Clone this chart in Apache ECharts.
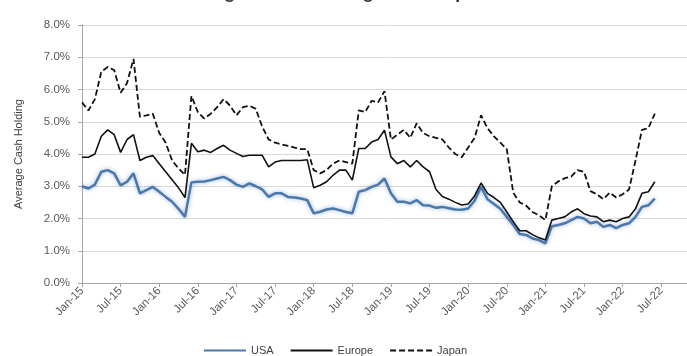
<!DOCTYPE html>
<html>
<head>
<meta charset="utf-8">
<script src="https://cdn.jsdelivr.net/npm/echarts@6/dist/echarts.min.js"></script>
<style>
  html, body { margin: 0; padding: 0; background: #fff; }
  #chart { width: 687px; height: 356px; }
</style>
</head>
<body>
<div id="chart"></div>
<script>
// Monthly categories, Jan-15 through Nov-22 (axis runs past the last reading)
const monthNames = ['Jan','Feb','Mar','Apr','May','Jun','Jul','Aug','Sep','Oct','Nov','Dec'];
const categories = [];
for (let y = 15; y <= 22; y++) {
  for (let m = 0; m < 12; m++) {
    if (y === 22 && m > 10) break;
    categories.push(monthNames[m] + '-' + y);
  }
}

// Average cash holding (% of assets), Jan-15 .. Jun-22
const usa = [
  3.00, 2.93, 3.05, 3.45, 3.50, 3.40, 3.03, 3.14, 3.40, 2.78,
  2.88, 2.98, 2.83, 2.67, 2.52, 2.30, 2.05, 3.12, 3.14, 3.15,
  3.19, 3.24, 3.29, 3.19, 3.05, 2.98, 3.09, 3.00, 2.90, 2.67,
  2.78, 2.78, 2.67, 2.65, 2.62, 2.57, 2.16, 2.21, 2.28, 2.31,
  2.26, 2.20, 2.16, 2.83, 2.88, 2.98, 3.05, 3.24, 2.78, 2.52,
  2.52, 2.47, 2.57, 2.41, 2.40, 2.33, 2.36, 2.32, 2.28, 2.27,
  2.31, 2.55, 2.98, 2.60, 2.45, 2.30, 2.05, 1.80, 1.52, 1.49,
  1.38, 1.33, 1.23, 1.76, 1.80, 1.85, 1.95, 2.05, 2.00, 1.85,
  1.90, 1.74, 1.80, 1.70, 1.80, 1.85, 2.05, 2.36, 2.41, 2.62
];
const europe = [
  3.90, 3.90, 4.00, 4.55, 4.75, 4.60, 4.05, 4.45, 4.60, 3.80,
  3.90, 3.95, 3.70, 3.45, 3.20, 2.95, 2.65, 4.33, 4.07, 4.12,
  4.05, 4.17, 4.27, 4.12, 4.02, 3.92, 3.96, 3.96, 3.96, 3.60,
  3.75, 3.80, 3.80, 3.80, 3.80, 3.82, 2.95, 3.03, 3.14, 3.34,
  3.50, 3.50, 3.19, 4.17, 4.17, 4.37, 4.45, 4.74, 3.91, 3.70,
  3.80, 3.60, 3.80, 3.60, 3.45, 2.90, 2.68, 2.60, 2.50, 2.42,
  2.45, 2.70, 3.10, 2.78, 2.65, 2.50, 2.20, 1.90, 1.62, 1.62,
  1.50, 1.40, 1.33, 1.95, 2.00, 2.05, 2.20, 2.30, 2.15, 2.08,
  2.05, 1.90, 1.95, 1.90, 2.00, 2.05, 2.30, 2.78, 2.83, 3.14
];
const japan = [
  5.60, 5.35, 5.70, 6.55, 6.70, 6.60, 5.90, 6.20, 6.95, 5.15,
  5.20, 5.25, 4.65, 4.35, 3.80, 3.55, 3.35, 5.80, 5.30, 5.10,
  5.25, 5.45, 5.70, 5.50, 5.20, 5.45, 5.50, 5.40, 4.85, 4.45,
  4.35, 4.30, 4.25, 4.20, 4.15, 4.15, 3.50, 3.40, 3.50, 3.70,
  3.80, 3.75, 3.70, 5.35, 5.30, 5.65, 5.60, 5.95, 4.45, 4.60,
  4.75, 4.50, 4.95, 4.65, 4.55, 4.50, 4.45, 4.20, 4.00, 3.90,
  4.20, 4.50, 5.20, 4.80, 4.55, 4.35, 4.15, 2.80, 2.50, 2.40,
  2.20, 2.10, 1.95, 3.00, 3.15, 3.25, 3.30, 3.50, 3.45, 2.85,
  2.75, 2.60, 2.80, 2.65, 2.75, 2.90, 3.80, 4.75, 4.80, 5.25
];

const yTicks = { min: 0, max: 8, interval: 1 };
const labelFont = "'Liberation Sans Narrow', 'Liberation Sans', Arial, sans-serif";
const textGray = '#595959';

const chart = echarts.init(document.getElementById('chart'), null, { renderer: 'canvas' });
chart.setOption({
  animation: false,
  backgroundColor: '#ffffff',
  title: {
    text: 'Average Cash Holdings of Companies',
    left: 'center',
    top: -22,
    textStyle: { fontSize: 19, fontWeight: 'bold', color: '#404040', fontFamily: "'Liberation Sans', Arial, sans-serif" }
  },
  grid: { left: 82, right: 0, top: 25, bottom: 73, containLabel: false },
  legend: {
    bottom: -5,
    left: 198,
    itemWidth: 42,
    itemHeight: 10,
    itemGap: 16,
    itemStyle: { opacity: 0 },
    textStyle: { fontSize: 11, color: '#404040', fontFamily: labelFont },
    data: ['USA', 'Europe', 'Japan']
  },
  xAxis: {
    type: 'category',
    boundaryGap: false,
    data: categories,
    axisLine: { lineStyle: { color: '#a6a6a6', width: 1 } },
    axisTick: { show: true, interval: 5, length: 4, lineStyle: { color: '#a6a6a6' } },
    axisLabel: {
      interval: 5,
      rotate: 45,
      margin: 6,
      fontSize: 11.5,
      color: textGray,
      fontFamily: labelFont
    },
    splitLine: { show: false }
  },
  yAxis: {
    type: 'value',
    min: yTicks.min,
    max: yTicks.max,
    interval: yTicks.interval,
    name: 'Average Cash Holding',
    nameLocation: 'middle',
    nameGap: 58,
    nameTextStyle: { fontSize: 11, color: '#404040', fontFamily: labelFont },
    axisLine: { show: true, lineStyle: { color: '#a6a6a6', width: 1 } },
    axisTick: { show: true, length: 4, lineStyle: { color: '#a6a6a6' } },
    axisLabel: {
      formatter: v => v.toFixed(1) + '%',
      fontSize: 11.5,
      margin: 12,
      color: textGray,
      fontFamily: labelFont
    },
    splitLine: { lineStyle: { color: '#d9d9d9', width: 1 } }
  },
  series: [
    {
      name: 'USA',
      type: 'line',
      data: usa,
      symbol: 'none',
      lineStyle: {
        color: '#4a78ad', width: 2.5,
        shadowColor: 'rgba(74,120,173,0.55)', shadowBlur: 4
      },
      itemStyle: { color: '#4a78ad' },
      z: 3
    },
    {
      name: 'Europe',
      type: 'line',
      data: europe,
      symbol: 'none',
      lineStyle: { color: '#111111', width: 1.6 },
      itemStyle: { color: '#111111' },
      z: 4
    },
    {
      name: 'Japan',
      type: 'line',
      data: japan,
      symbol: 'none',
      lineStyle: { color: '#111111', width: 1.8, type: [6, 3] },
      itemStyle: { color: '#111111' },
      z: 5
    }
  ]
});
</script>
</body>
</html>
